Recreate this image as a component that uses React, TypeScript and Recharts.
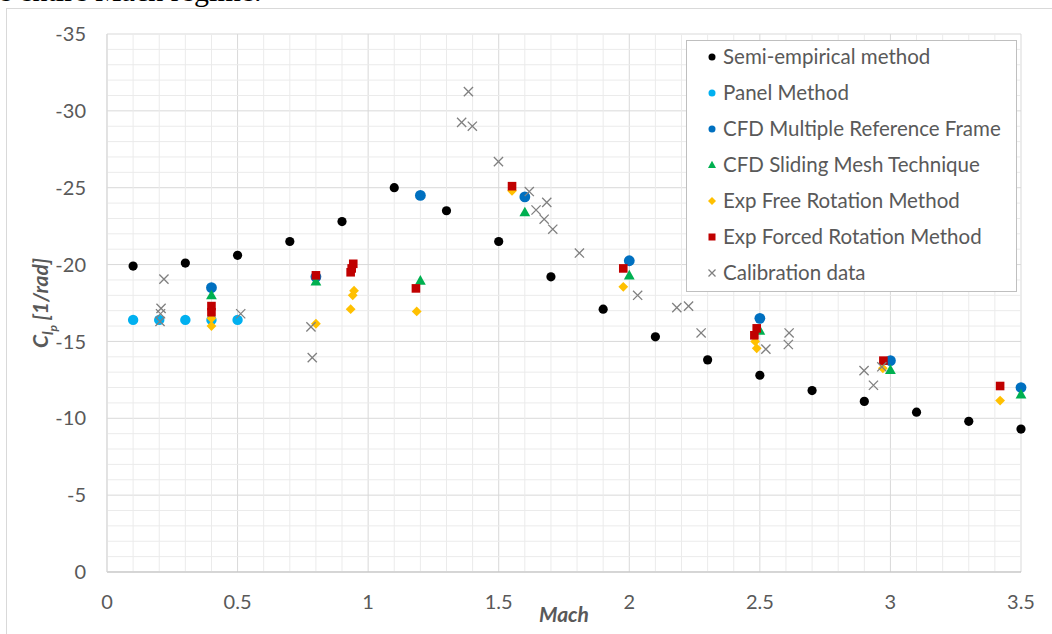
import React from 'react';
import {
  ScatterChart,
  Scatter,
  XAxis,
  YAxis,
  CartesianGrid,
  ReferenceLine,
} from 'recharts';

// Roll damping coefficient vs Mach number
const semiEmpirical = [
  { mach: 0.1, clp: -19.9 }, { mach: 0.3, clp: -20.1 }, { mach: 0.5, clp: -20.6 },
  { mach: 0.7, clp: -21.5 }, { mach: 0.9, clp: -22.8 }, { mach: 1.1, clp: -25.0 },
  { mach: 1.3, clp: -23.5 }, { mach: 1.5, clp: -21.5 }, { mach: 1.7, clp: -19.2 },
  { mach: 1.9, clp: -17.1 }, { mach: 2.1, clp: -15.3 }, { mach: 2.3, clp: -13.8 },
  { mach: 2.5, clp: -12.8 }, { mach: 2.7, clp: -11.8 }, { mach: 2.9, clp: -11.1 },
  { mach: 3.1, clp: -10.4 }, { mach: 3.3, clp: -9.8 }, { mach: 3.5, clp: -9.3 },
];

const panelMethod = [
  { mach: 0.1, clp: -16.4 }, { mach: 0.2, clp: -16.4 }, { mach: 0.3, clp: -16.4 },
  { mach: 0.4, clp: -16.4 }, { mach: 0.5, clp: -16.4 },
];

const cfdMrf = [
  { mach: 0.4, clp: -18.5 }, { mach: 0.8, clp: -19.2 }, { mach: 1.2, clp: -24.5 },
  { mach: 1.6, clp: -24.4 }, { mach: 2.0, clp: -20.25 }, { mach: 2.5, clp: -16.5 },
  { mach: 3.0, clp: -13.75 }, { mach: 3.5, clp: -12.0 },
];

const cfdSliding = [
  { mach: 0.4, clp: -18.0 }, { mach: 0.8, clp: -18.9 }, { mach: 1.2, clp: -18.95 },
  { mach: 1.6, clp: -23.4 }, { mach: 2.0, clp: -19.3 }, { mach: 2.5, clp: -15.7 },
  { mach: 3.0, clp: -13.15 }, { mach: 3.5, clp: -11.55 },
];

const expFree = [
  { mach: 0.4, clp: -16.0 }, { mach: 0.4, clp: -16.5 }, { mach: 0.8, clp: -16.15 },
  { mach: 0.933, clp: -17.1 }, { mach: 0.941, clp: -18.0 }, { mach: 0.946, clp: -18.3 },
  { mach: 1.186, clp: -16.95 }, { mach: 1.551, clp: -24.8 }, { mach: 1.977, clp: -18.55 },
  { mach: 2.482, clp: -15.0 }, { mach: 2.488, clp: -14.55 }, { mach: 2.971, clp: -13.25 },
  { mach: 3.42, clp: -11.15 },
];

const expForced = [
  { mach: 0.4, clp: -16.9 }, { mach: 0.4, clp: -17.3 }, { mach: 0.8, clp: -19.3 },
  { mach: 0.933, clp: -19.5 }, { mach: 0.937, clp: -19.75 }, { mach: 0.943, clp: -20.05 },
  { mach: 1.183, clp: -18.45 }, { mach: 1.551, clp: -25.1 }, { mach: 1.977, clp: -19.75 },
  { mach: 2.479, clp: -15.4 }, { mach: 2.488, clp: -15.85 }, { mach: 2.973, clp: -13.75 },
  { mach: 3.42, clp: -12.1 },
];

const calibration = [
  { mach: 0.218, clp: -19.05 }, { mach: 0.207, clp: -17.15 }, { mach: 0.205, clp: -16.8 },
  { mach: 0.203, clp: -16.3 }, { mach: 0.512, clp: -16.8 }, { mach: 0.781, clp: -15.95 },
  { mach: 0.786, clp: -13.95 }, { mach: 1.358, clp: -29.25 }, { mach: 1.384, clp: -31.25 },
  { mach: 1.399, clp: -29.0 }, { mach: 1.499, clp: -26.7 }, { mach: 1.617, clp: -24.75 },
  { mach: 1.643, clp: -23.55 }, { mach: 1.684, clp: -24.05 }, { mach: 1.674, clp: -22.95 },
  { mach: 1.707, clp: -22.3 }, { mach: 1.809, clp: -20.75 }, { mach: 2.032, clp: -18.0 },
  { mach: 2.182, clp: -17.2 }, { mach: 2.227, clp: -17.3 }, { mach: 2.275, clp: -15.55 },
  { mach: 2.523, clp: -14.5 }, { mach: 2.612, clp: -15.55 }, { mach: 2.609, clp: -14.8 },
  { mach: 2.899, clp: -13.1 }, { mach: 2.935, clp: -12.15 }, { mach: 2.967, clp: -13.35 },
];

const xTicks = [0, 0.5, 1, 1.5, 2, 2.5, 3, 3.5];
const yTicks = [-35, -30, -25, -20, -15, -10, -5, 0];
const xMinor = [
  0.1, 0.2, 0.3, 0.4, 0.6, 0.7, 0.8, 0.9, 1.1, 1.2, 1.3, 1.4, 1.6, 1.7, 1.8, 1.9,
  2.1, 2.2, 2.3, 2.4, 2.6, 2.7, 2.8, 2.9, 3.1, 3.2, 3.3, 3.4,
];
const yMinor = [
  -34, -33, -32, -31, -29, -28, -27, -26, -24, -23, -22, -21, -19, -18, -17, -16,
  -14, -13, -12, -11, -9, -8, -7, -6, -4, -3, -2, -1,
];

const FONT = 'Lato, "Open Sans", sans-serif';
const TEXT = '#595959';

type Kind = 'circle' | 'triangle' | 'diamond' | 'square' | 'cross';

const Marker = ({ kind, cx, cy, color, s }: { kind: Kind; cx: number; cy: number; color: string; s: number }) => {
  if (kind === 'circle') return <circle cx={cx} cy={cy} r={s} fill={color} />;
  if (kind === 'triangle')
    return <polygon points={`${cx},${cy - s * 1.05} ${cx + s},${cy + s * 0.75} ${cx - s},${cy + s * 0.75}`} fill={color} />;
  if (kind === 'diamond')
    return <polygon points={`${cx},${cy - s} ${cx + s},${cy} ${cx},${cy + s} ${cx - s},${cy}`} fill={color} />;
  if (kind === 'square') return <rect x={cx - s} y={cy - s} width={s * 2} height={s * 2} fill={color} />;
  return (
    <path
      d={`M${cx - s},${cy - s}L${cx + s},${cy + s}M${cx - s},${cy + s}L${cx + s},${cy - s}`}
      stroke={color}
      strokeWidth={1.3}
      fill="none"
    />
  );
};

const SERIES = [
  { name: 'Semi-empirical method', data: semiEmpirical, color: '#000000', kind: 'circle' as Kind, size: 4.6, legend: 3.5 },
  { name: 'Panel Method', data: panelMethod, color: '#00B0F0', kind: 'circle' as Kind, size: 5.2, legend: 3.5 },
  { name: 'CFD Multiple Reference Frame', data: cfdMrf, color: '#0070C0', kind: 'circle' as Kind, size: 5.4, legend: 3.5 },
  { name: 'CFD Sliding Mesh Technique', data: cfdSliding, color: '#00B050', kind: 'triangle' as Kind, size: 5.4, legend: 4 },
  { name: 'Exp Free Rotation Method', data: expFree, color: '#FFC000', kind: 'diamond' as Kind, size: 4.9, legend: 4 },
  { name: 'Exp Forced Rotation Method', data: expForced, color: '#C00000', kind: 'square' as Kind, size: 4.3, legend: 3.5 },
  { name: 'Calibration data', data: calibration, color: '#808080', kind: 'cross' as Kind, size: 4.6, legend: 3.5 },
];

const LegendBox = () => (
  <div
    style={{
      position: 'absolute',
      left: 686,
      top: 40,
      width: 331,
      height: 252,
      border: '1px solid #bfbfbf',
      background: '#fff',
      boxSizing: 'border-box',
      fontFamily: FONT,
    }}
  >
    <div style={{ position: 'relative', top: -3 }}>
      {SERIES.map((s) => (
        <div key={s.name} style={{ display: 'flex', alignItems: 'center', height: 36, color: TEXT, fontSize: 20.5 }}>
          <svg width={36} height={20} style={{ flex: 'none' }}>
            <Marker kind={s.kind} cx={25} cy={11} color={s.color} s={s.legend} />
          </svg>
          <span style={{ whiteSpace: 'nowrap' }}>{s.name}</span>
        </div>
      ))}
    </div>
  </div>
);

const YTitle = (props: any) => {
  const { viewBox } = props;
  const x = 48;
  const y = viewBox.y + viewBox.height / 2;
  return (
    <text
      x={x}
      y={y}
      transform={`rotate(-90, ${x}, ${y})`}
      textAnchor="middle"
      fill={TEXT}
      fontFamily={FONT}
      fontSize={21}
      fontWeight="bold"
      fontStyle="italic"
    >
      <tspan>C</tspan>
      <tspan fontSize={15} dy={5}>l</tspan>
      <tspan fontSize={12} dy={4}>p</tspan>
      <tspan dy={-9}> [1/rad]</tspan>
    </text>
  );
};

export default function App() {
  return (
    <div style={{ position: 'absolute', left: 0, top: 0, width: 1052, height: 634, overflow: 'hidden', background: '#fff' }}>
      <div
        style={{
          position: 'absolute',
          left: -25,
          top: -24,
          fontFamily: '"Liberation Serif", "Times New Roman", serif',
          fontSize: 30,
          lineHeight: '30px',
          whiteSpace: 'nowrap',
          color: '#000',
        }}
      >
        the entire Mach regime.
      </div>
      <div
        style={{
          position: 'absolute',
          left: 6,
          top: 8,
          width: 1080,
          height: 660,
          border: '1px solid #d9d9d9',
        }}
      />
      <div style={{ position: 'absolute', left: 0, top: 0 }}>
        <ScatterChart width={1052} height={634} margin={{ top: 34, right: 31, bottom: 32, left: 47 }}>
          {xMinor.map((v) => (
            <ReferenceLine key={`xm${v}`} x={v} stroke="#ebebeb" strokeWidth={1} ifOverflow="hidden" />
          ))}
          {yMinor.map((v) => (
            <ReferenceLine key={`ym${v}`} y={v} stroke="#ebebeb" strokeWidth={1} ifOverflow="hidden" />
          ))}
          <CartesianGrid stroke="#d9d9d9" />
          <XAxis
            type="number"
            dataKey="mach"
            domain={[0, 3.5]}
            ticks={xTicks}
            interval={0}
            tickLine={false}
            tickSize={0}
            tickMargin={23}
            axisLine={{ stroke: '#bfbfbf' }}
            tick={{ fill: TEXT, fontSize: 20, fontFamily: FONT }}
            height={30}
            label={{
              value: 'Mach',
              position: 'bottom',
              offset: 5,
              fill: TEXT,
              fontSize: 21,
              fontWeight: 'bold',
              fontStyle: 'italic',
              fontFamily: FONT,
            }}
          />
          <YAxis
            type="number"
            dataKey="clp"
            domain={[-35, 0]}
            reversed
            ticks={yTicks}
            interval={0}
            tickLine={false}
            tickSize={0}
            tickMargin={21}
            axisLine={{ stroke: '#d9d9d9' }}
            tick={{ fill: TEXT, fontSize: 20, fontFamily: FONT }}
            width={60}
            label={<YTitle />}
          />
          {SERIES.map((s) => (
            <Scatter
              key={s.name}
              name={s.name}
              data={s.data}
              fill={s.color}
              isAnimationActive={false}
              shape={(p: any) => <Marker kind={s.kind} cx={p.cx} cy={p.cy} color={s.color} s={s.size} />}
            />
          ))}
        </ScatterChart>
      </div>
      <LegendBox />
    </div>
  );
}
